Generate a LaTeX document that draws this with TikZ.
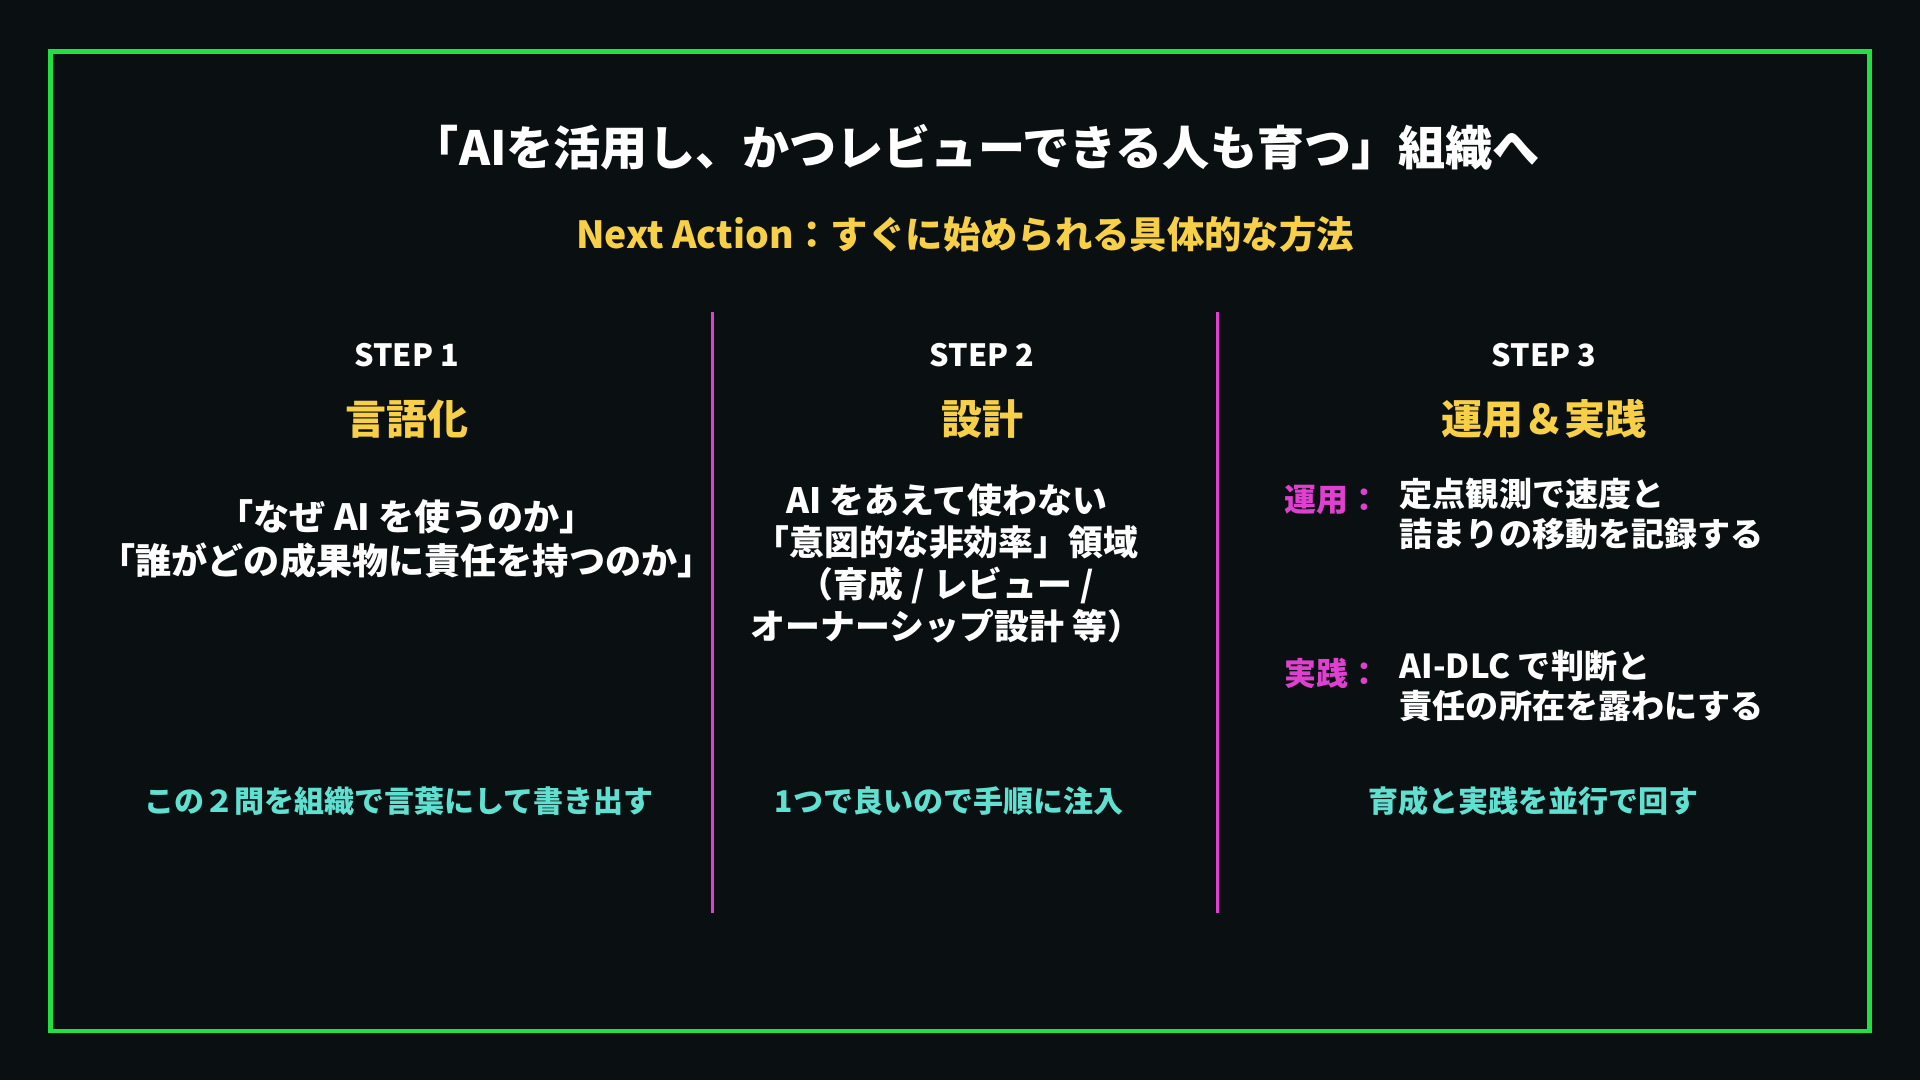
\documentclass[tikz,border=0pt]{standalone}
\usepackage{fontspec}
\setmainfont{Noto Sans CJK JP}
\begin{document}
\begin{tikzpicture}[x=1pt,y=-1pt,
  every node/.style={font=\bfseries,text=white,inner sep=0pt},
  ttl/.style={font=\fontsize{38.5}{44}\selectfont\bfseries},
  sub/.style={font=\fontsize{30.5}{34}\selectfont\bfseries,text=yel},
  stp/.style={font=\fontsize{25}{28}\selectfont\bfseries},
  head/.style={font=\fontsize{33.5}{38}\selectfont\bfseries,text=yel},
  body/.style={font=\fontsize{29.5}{36}\selectfont\bfseries,align=center},
  body2/.style={font=\fontsize{28.5}{34.5}\selectfont\bfseries,align=center},
  bodyl/.style={font=\fontsize{27}{32.5}\selectfont\bfseries,align=left,anchor=north west},
  lab/.style={font=\fontsize{26}{30}\selectfont\bfseries,text=mag},
  foot/.style={font=\fontsize{24.5}{28}\selectfont\bfseries,text=cyn},
  divider/.style={draw=mag,line width=2.5pt}]
\definecolor{bg}{HTML}{0A1012}
\definecolor{grn}{HTML}{22E040}
\definecolor{yel}{HTML}{F8D048}
\definecolor{mag}{HTML}{E040D0}
\definecolor{cyn}{HTML}{60E0D0}
\fill[bg] (0,0) rectangle (1568,882);
\useasboundingbox (0,0) rectangle (1568,882);
\draw[grn,line width=4pt] (41,42) rectangle (1527,842);
\node[ttl] (title) at (797,120) {「AIを活用し、かつレビューできる人も育つ」組織へ};
\node[sub] (subt) at (788,191) {Next Action：すぐに始められる具体的な方法};
\coordinate (d1a) at (582,255); \coordinate (d1b) at (582,746);
\coordinate (d2a) at (994,255); \coordinate (d2b) at (994,746);
\draw[divider] (d1a) -- (d1b);
\draw[divider] (d2a) -- (d2b);
% step 1
\node[stp] (s1) at (332,290) {STEP 1};
\node[head] (h1) at (332,342) {言語化};
\node[body] (b1) at (332,440) {「なぜ AI を使うのか」\\「誰がどの成果物に責任を持つのか」};
\node[foot] (f1) at (326,654) {この２問を組織で言葉にして書き出す};
% step 2
\node[stp] (s2) at (802,290) {STEP 2};
\node[head] (h2) at (802,342) {設計};
\node[body2] (b2) at (773,460) {AI をあえて使わない\\「意図的な非効率」領域\\（育成 / レビュー /\\オーナーシップ設計 等）};
\node[foot] (f2) at (775,654) {1つで良いので手順に注入};
% step 3
\node[stp] (s3) at (1261,290) {STEP 3};
\node[head] (h3) at (1261,342) {運用＆実践};
\node[lab] (l1) at (1088,408) {運用：};
\node[bodyl] (t1) at (1143,390) {定点観測で速度と\\詰まりの移動を記録する};
\node[lab] (l2) at (1088,550) {実践：};
\node[bodyl] (t2) at (1143,531) {AI-DLC で判断と\\責任の所在を露わにする};
\node[foot] (f3) at (1252,654) {育成と実践を並行で回す};
\end{tikzpicture}
\end{document}
